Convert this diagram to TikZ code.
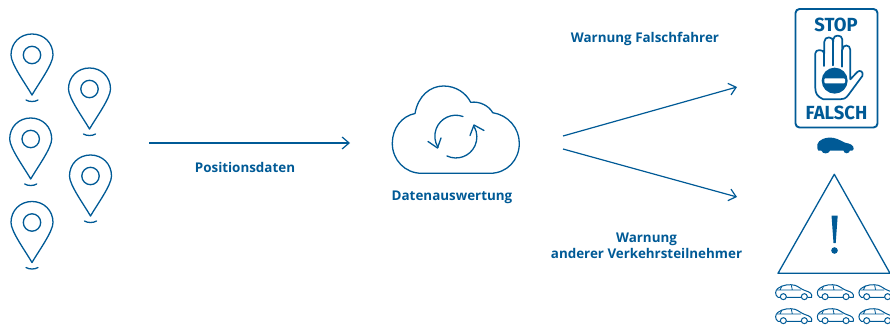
\documentclass[tikz,border=0pt]{standalone}
\usepackage{fontspec}
\setmainfont{Open Sans}
\newfontfamily\signfont[FakeStretch=.97]{Fira Sans}
\usetikzlibrary{arrows.meta}
\definecolor{bosch}{HTML}{005A96}
\tikzset{
  x=1pt,y=-1pt,
  icon/.style={draw=bosch,line width=1.3pt,line join=round,line cap=round},
  link/.style={draw=bosch,line width=1.2pt,-{Straight Barb[length=7pt,width=12pt,line width=1.2pt]}},
  caption/.style={text=bosch,font=\bfseries\fontsize{13.4}{16}\selectfont,align=center,inner sep=0pt},
  pin/.pic={
    \draw[icon] (0,40) .. controls (-7,28) and (-21,9) .. (-21,0)
       .. controls (-21,-12) and (-12,-21) .. (0,-21)
       .. controls (12,-21) and (21,-12) .. (21,0)
       .. controls (21,9) and (7,28) .. (0,40) -- cycle;
    \draw[icon] (0,0) circle[radius=8.7pt];
    \draw[icon] (-6,45) .. controls (-3,47) and (3,47) .. (6,45);
  },
  carpic/.pic={
    \begin{scope}[x=.3333pt,y=-.3333pt]
    \draw[icon,line width=1pt] (30,397) -- (24,397) .. controls (14,390) and (15,376) .. (24,370)
      .. controls (38,359) and (60,357) .. (75,361) .. controls (85,364) and (95,374) .. (106,377)
      .. controls (120,381) and (128,387) .. (125,397) -- (113,397)
      (93,397) -- (50,397);
    \draw[icon,line width=1pt] (40,395) circle[radius=9] (103,395) circle[radius=9];
    \draw[icon,line width=.8pt] (22,375) -- (92,375) (64,361) -- (67,375) (36,363)--(30,375);
    \end{scope}
  }
}
\begin{document}
\begin{tikzpicture}
\useasboundingbox (0,0) rectangle (890,326);
% pins
\pic at (32,55) {pin};
\pic at (89.5,89) {pin};
\pic at (30.7,139) {pin};
\pic at (90.5,176) {pin};
\pic at (32,222.5) {pin};
% connectors
\coordinate (a1) at (149,143); \coordinate (a2) at (350,143);
\draw[link] (a1) -- (a2);
\coordinate (b1) at (563,136); \coordinate (b2) at (737,87);
\draw[link] (b1) -- (b2);
\coordinate (c1) at (563,149); \coordinate (c2) at (737,197);
\draw[link] (c1) -- (c2);
% cloud
\draw[icon] (415,113.5) .. controls (418,96) and (430,86) .. (443.5,86)
  .. controls (456,86) and (466,93) .. (470.7,102.3)
  .. controls (480,101) and (489,106) .. (492.7,112.7)
  .. controls (508,115) and (519.3,128) .. (519.3,143.3)
  .. controls (519.3,160) and (507,173.3) .. (490,173.3)
  -- (421.7,173.3)
  .. controls (405,173.3) and (392.3,160) .. (392.3,143.3)
  .. controls (392.3,128) and (402,116) .. (415,113.5) -- cycle;
\draw[icon] (463,116.5) arc[start angle=70,end angle=212,radius=21pt];
\draw[icon] (428,141.5) -- (437.5,148) -- (441,138);
\draw[icon] (447,156) arc[start angle=245,end angle=389,radius=21pt];
\draw[icon] (484,130.5) -- (474,125) -- (470,135.5);
% sign
\draw[icon,line width=1.9pt,rounded corners=4pt] (795.5,9) rectangle (877.5,127.5);
\node[inner sep=0pt,text=bosch] (stop) at (836,24.5) {\signfont\bfseries\fontsize{19}{19}\selectfont STOP};
\node[inner sep=0pt,text=bosch] (falsch) at (836.5,113) {\signfont\bfseries\fontsize{19}{19}\selectfont FALSCH};
\begin{scope}[shift={(780,0)},x=.3333pt,y=-.3333pt]
\draw[icon,line width=1.7pt] (130,298) .. controls (112,290) and (106,280) .. (106,265) -- (106,160)
  .. controls (106,147) and (130,147) .. (133,160) -- (133,125)
  .. controls (133,108) and (160,108) .. (160,125) -- (160,118)
  .. controls (160,103) and (186,103) .. (187,118) -- (187,150)
  .. controls (187,132) and (211,132) .. (211,150) -- (211,238)
  -- (232,216) .. controls (240,208) and (252,216) .. (247,228)
  -- (205,285) .. controls (197,296) and (190,298) .. (180,298) -- cycle;
\draw[icon,line width=1.7pt] (133,160) -- (133,198) (160,125) -- (160,196) (187,150) -- (187,200);
\fill[bosch] (164,242) circle[radius=39];
\fill[white,rounded corners=1pt] (133,235) rectangle (195,250);
\end{scope}
% solid car
\begin{scope}[shift={(780,0)},x=.3333pt,y=-.3333pt]
\fill[bosch] (112,445) .. controls (108,428) and (120,416) .. (145,413)
  .. controls (165,411) and (178,420) .. (195,428) .. controls (210,431) and (222,435) .. (221,447)
  -- (217,452) -- (150,452) .. controls (146,463) and (128,463) .. (124,452) -- (115,452) -- cycle;
\fill[bosch] (200,450) circle[radius=10];
\end{scope}
% triangle
\draw[icon] (834.3,174.3) -- (778,273.3) -- (890,273.3) -- cycle;
\fill[bosch] (831.5,215.5) -- (837.7,215.5) -- (835.7,243) -- (833.5,243) -- cycle;
\fill[bosch] (834.5,250.5) circle[radius=3.3pt];
% cars
\pic at (770,165) {carpic};
\pic at (811.7,165) {carpic};
\pic at (853.3,165) {carpic};
\pic at (770,189) {carpic};
\pic at (811.7,189) {carpic};
\pic at (853.3,189) {carpic};
% labels
\node[caption] (t1) at (245,167.5) {Positionsdaten};
\node[caption] (t2) at (452,197.5) {Datenauswertung};
\node[caption] (t3) at (645,38.5) {Warnung Falschfahrer};
\node[caption] (t4) at (646.5,245.5) {Warnung\\anderer Verkehrsteilnehmer};
\end{tikzpicture}
\end{document}
